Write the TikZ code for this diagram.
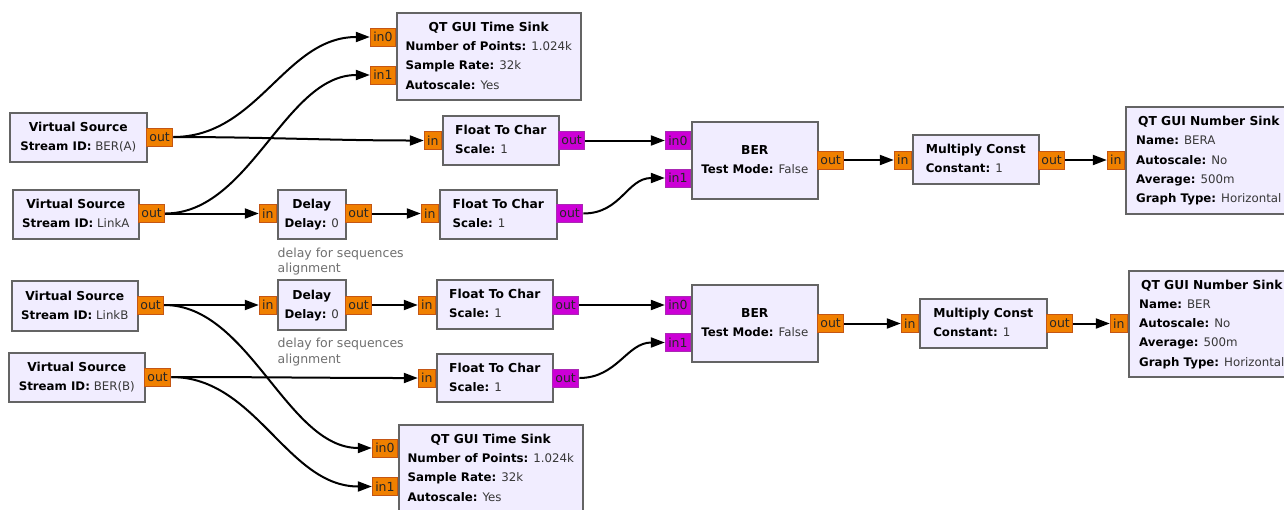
\documentclass[tikz,border=0pt]{standalone}
\usepackage{fontspec}
\setmainfont{DejaVu Sans}
\usetikzlibrary{arrows.meta}
\definecolor{blkfill}{RGB}{241,237,255}
\definecolor{blkdraw}{RGB}{100,100,100}
\definecolor{porto}{RGB}{240,128,0}
\definecolor{portod}{RGB}{196,86,20}
\definecolor{portm}{RGB}{204,0,214}
\definecolor{portmd}{RGB}{170,40,180}
\definecolor{valtxt}{RGB}{55,55,55}
\definecolor{cmttxt}{RGB}{112,112,112}
\newcommand{\grcblk}[2]{\begin{tabular}{@{}l@{}}\multicolumn{1}{@{}c@{}}{\fontsize{12.3}{19.3}\selectfont\bfseries #1}\\#2\end{tabular}}
\newcommand{\grcprm}[2]{\textbf{#1:} \textcolor{valtxt}{#2}}
\tikzset{
 blk/.style={draw=blkdraw, fill=blkfill, line width=1.6pt, inner sep=0pt, anchor=north west, font=\fontsize{11.8}{19.3}\selectfont},
 oport/.style={fill=porto, draw=portod, line width=0.8pt, inner xsep=3pt, inner ysep=0pt, minimum height=18pt, font=\fontsize{12.5}{14}\selectfont, text=black!85},
 mport/.style={oport, fill=portm, draw=portmd},
 conn/.style={line width=2pt, -{Triangle[length=14pt,width=10pt]}},
 cmt/.style={inner sep=0pt, anchor=base west, text=cmttxt, font=\fontsize{12.5}{15.5}\selectfont},
}
\begin{document}
\begin{tikzpicture}[x=1pt,y=-1pt]
\fill[white] (0,0) rectangle (1284,509);
\useasboundingbox (0,0) rectangle (1284,509);
\clip (0,0) rectangle (1284,509);

% ---------- upper chain ----------
\node[blk, minimum width=137, minimum height=49] (vsA) at (9,112) {\grcblk{Virtual Source}{\grcprm{Stream ID}{BER(A)}}};
\node[oport, anchor=west] (vsAo) at (146,137) {out};

\node[blk, minimum width=126, minimum height=49] (vsLA) at (12,189) {\grcblk{Virtual Source}{\grcprm{Stream ID}{LinkA}}};
\node[oport, anchor=west] (vsLAo) at (138,213.5) {out};

\node[blk, minimum width=68, minimum height=49] (dlyA) at (277,189) {\grcblk{Delay}{\grcprm{Delay}{0}}};
\node[oport, anchor=east] (dlyAi) at (277,213.5) {in};
\node[oport, anchor=west] (dlyAo) at (345,213.5) {out};
\node[cmt] (cmtA1) at (277.5,257) {delay for sequences};
\node[cmt] (cmtA2) at (277.5,272.5) {alignment};

\node[blk, minimum width=116, minimum height=49] (ftcA1) at (442,115) {\grcblk{Float To Char}{\grcprm{Scale}{1}}};
\node[oport, anchor=east] (ftcA1i) at (442,140.5) {in};
\node[mport, anchor=west] (ftcA1o) at (558,140.5) {out};

\node[blk, minimum width=117, minimum height=49] (ftcA2) at (439,189) {\grcblk{Float To Char}{\grcprm{Scale}{1}}};
\node[oport, anchor=east] (ftcA2i) at (439,213.5) {in};
\node[mport, anchor=west] (ftcA2o) at (556,213.5) {out};

\node[blk, minimum width=184, minimum height=87] (tsA) at (396,12) {\grcblk{QT GUI Time Sink}{\grcprm{Number of Points}{1.024k}\\\grcprm{Sample Rate}{32k}\\\grcprm{Autoscale}{Yes}}};
\node[oport, anchor=east] (tsAi0) at (396,37) {in0};
\node[oport, anchor=east] (tsAi1) at (396,75) {in1};

\node[blk, minimum width=126, minimum height=77] (berA) at (691,121) {\grcblk{BER}{\grcprm{Test Mode}{False}}};
\node[mport, anchor=east] (berAi0) at (691,140.5) {in0};
\node[mport, anchor=east] (berAi1) at (691,178) {in1};
\node[oport, anchor=west] (berAo) at (817,160) {out};

\node[blk, minimum width=126, minimum height=49] (mcA) at (912,134) {\grcblk{Multiply Const}{\grcprm{Constant}{1}}};
\node[oport, anchor=east] (mcAi) at (912,160) {in};
\node[oport, anchor=west] (mcAo) at (1038,160) {out};

\node[blk, minimum width=166, minimum height=107] (nsA) at (1125,106) {\grcblk{QT GUI Number Sink}{\grcprm{Name}{BERA}\\\grcprm{Autoscale}{No}\\\grcprm{Average}{500m}\\\grcprm{Graph Type}{Horizontal}}};
\node[oport, anchor=east] (nsAi) at (1125,160) {in};

% ---------- lower chain ----------
\node[blk, minimum width=126, minimum height=50] (vsLB) at (11,280) {\grcblk{Virtual Source}{\grcprm{Stream ID}{LinkB}}};
\node[oport, anchor=west] (vsLBo) at (137,305) {out};

\node[blk, minimum width=68, minimum height=50] (dlyB) at (277,279) {\grcblk{Delay}{\grcprm{Delay}{0}}};
\node[oport, anchor=east] (dlyBi) at (277,305) {in};
\node[oport, anchor=west] (dlyBo) at (345,305) {out};
\node[cmt] (cmtB1) at (277.5,347.5) {delay for sequences};
\node[cmt] (cmtB2) at (277.5,363) {alignment};

\node[blk, minimum width=116, minimum height=49] (ftcB1) at (436,279) {\grcblk{Float To Char}{\grcprm{Scale}{1}}};
\node[oport, anchor=east] (ftcB1i) at (436,305) {in};
\node[mport, anchor=west] (ftcB1o) at (552,305) {out};

\node[blk, minimum width=136, minimum height=49] (vsBB) at (8,352) {\grcblk{Virtual Source}{\grcprm{Stream ID}{BER(B)}}};
\node[oport, anchor=west] (vsBBo) at (144,377) {out};

\node[blk, minimum width=116, minimum height=48] (ftcB2) at (436,353) {\grcblk{Float To Char}{\grcprm{Scale}{1}}};
\node[oport, anchor=east] (ftcB2i) at (436,378) {in};
\node[mport, anchor=west] (ftcB2o) at (552,378) {out};

\node[blk, minimum width=126, minimum height=77] (berB) at (691,284) {\grcblk{BER}{\grcprm{Test Mode}{False}}};
\node[mport, anchor=east] (berBi0) at (691,305) {in0};
\node[mport, anchor=east] (berBi1) at (691,342.5) {in1};
\node[oport, anchor=west] (berBo) at (817,323.5) {out};

\node[blk, minimum width=127, minimum height=49] (mcB) at (919,298) {\grcblk{Multiply Const}{\grcprm{Constant}{1}}};
\node[oport, anchor=east] (mcBi) at (919,323.5) {in};
\node[oport, anchor=west] (mcBo) at (1046,323.5) {out};

\node[blk, minimum width=166, minimum height=106] (nsB) at (1128,270) {\grcblk{QT GUI Number Sink}{\grcprm{Name}{BER}\\\grcprm{Autoscale}{No}\\\grcprm{Average}{500m}\\\grcprm{Graph Type}{Horizontal}}};
\node[oport, anchor=east] (nsBi) at (1128,323.5) {in};

\node[blk, minimum width=184, minimum height=87] (tsB) at (398,424) {\grcblk{QT GUI Time Sink}{\grcprm{Number of Points}{1.024k}\\\grcprm{Sample Rate}{32k}\\\grcprm{Autoscale}{Yes}}};
\node[oport, anchor=east] (tsBi0) at (398,448) {in0};
\node[oport, anchor=east] (tsBi1) at (398,486.5) {in1};

% ---------- connections ----------
\draw[conn] (vsAo.east) .. controls +(85,0) and +(-85,0) .. (tsAi0.west);
\draw[conn] (vsAo.east) .. controls +(90,0) and +(-90,0) .. (ftcA1i.west);
\draw[conn] (vsLAo.east) .. controls +(85,0) and +(-85,0) .. (tsAi1.west);
\draw[conn] (vsLAo.east) -- (dlyAi.west);
\draw[conn] (dlyAo.east) -- (ftcA2i.west);
\draw[conn] (ftcA1o.east) -- (berAi0.west);
\draw[conn] (ftcA2o.east) .. controls +(38,0) and +(-38,0) .. (berAi1.west);
\draw[conn] (berAo.east) -- (mcAi.west);
\draw[conn] (mcAo.east) -- (nsAi.west);

\draw[conn] (vsLBo.east) -- (dlyBi.west);
\draw[conn] (vsLBo.east) .. controls +(85,0) and +(-85,0) .. (tsBi0.west);
\draw[conn] (dlyBo.east) -- (ftcB1i.west);
\draw[conn] (vsBBo.east) .. controls +(90,0) and +(-90,0) .. (ftcB2i.west);
\draw[conn] (vsBBo.east) .. controls +(85,0) and +(-85,0) .. (tsBi1.west);
\draw[conn] (ftcB1o.east) -- (berBi0.west);
\draw[conn] (ftcB2o.east) .. controls +(38,0) and +(-38,0) .. (berBi1.west);
\draw[conn] (berBo.east) -- (mcBi.west);
\draw[conn] (mcBo.east) -- (nsBi.west);
\end{tikzpicture}
\end{document}
